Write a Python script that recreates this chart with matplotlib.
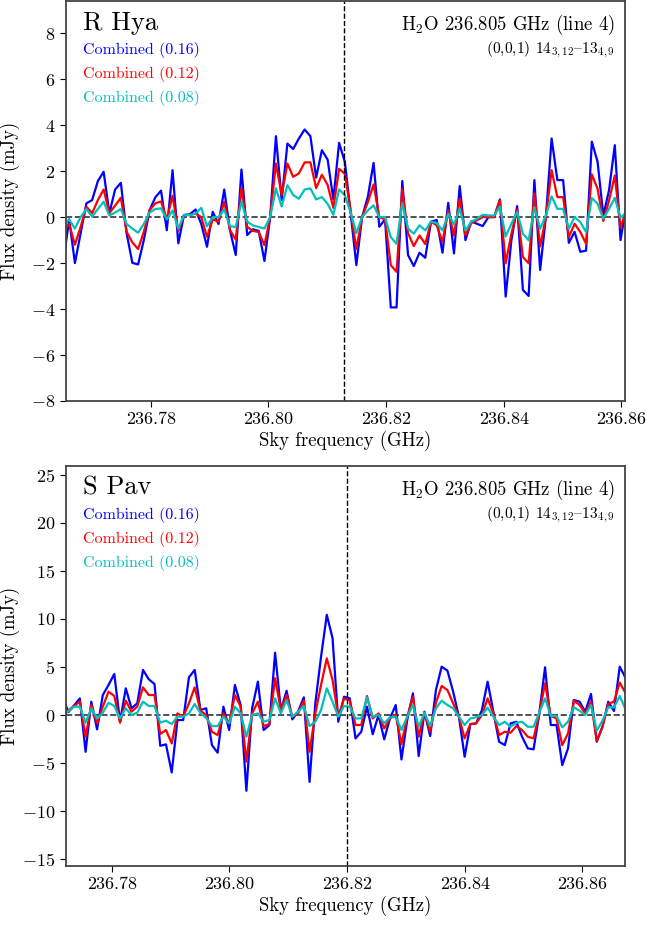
import numpy as np
import matplotlib
matplotlib.use('Agg')
from matplotlib import pyplot as plt

plt.rcParams['font.family'] = ['cmr10', 'DejaVu Serif']
plt.rcParams['mathtext.fontset'] = 'cm'
plt.rcParams['axes.formatter.use_mathtext'] = True
plt.rcParams['font.size'] = 13

# channel grid (GHz)
chan_width = 0.0009766
rhya_f0 = 236.76514
spav_f0 = 236.77163
rhya_line = 236.81284
spav_line = 236.82

labels = ['Combined (0.16)', 'Combined (0.12)', 'Combined (0.08)']
colors = ['b', 'r', 'c']

rhya_016 = [-1.9, -0.1, -2.0, -0.7, 0.6, 0.74, 1.57, 1.97, 0.17, 1.2,
            1.49, -0.7, -1.99, -2.06, -1.0, 0.3, 0.86, 1.15, -0.57, 2.04,
            -1.14, 0.09, 0.12, 0.33, -0.3, -1.29, 0.23, -0.3, 1.2, -0.57,
            -1.65, 2.07, -0.78, -0.53, -0.6, -1.91, 0.0, 3.52, 0.74, 3.2,
            2.96, 3.42, 3.81, 3.52, 1.72, 2.91, 2.5, 0.77, 3.23, 2.4,
            0.2, -2.09, 0.0, 0.88, 2.36, -0.42, -0.1, -3.93, -3.93, 1.57,
            -1.65, -2.13, -1.55, -1.77, -0.2, -0.13, -1.55, 0.62, -1.58, 1.35,
            -1.0, -0.19, -0.29, -0.39, 0.0, 0.0, 0.77, -3.46, -1.0, 0.48,
            -3.17, -3.43, 1.61, -2.3, 0.0, 3.42, 1.61, 1.61, -1.12, -0.64,
            -1.51, -1.46, 3.28, 2.41, 0.07, 1.17, 3.13, -1.0, 0.5]
rhya_012 = [-0.6, -0.3, -1.2, -0.42, 0.45, 0.17, 0.74, 1.2, 0.17, 0.5,
            0.84, -0.64, -1.1, -1.39, -0.64, 0.3, 0.6, 0.68, -0.1, 0.93,
            -0.6, 0.09, 0.09, 0.15, 0.0, -0.86, -0.1, -0.2, 0.67, -0.57,
            -0.97, 1.25, -0.43, -0.6, -0.65, -1.22, 0.0, 2.33, 0.96, 2.33,
            1.75, 1.9, 2.38, 2.38, 1.26, 1.84, 1.4, 0.4, 2.1, 1.88,
            0.3, -1.4, 0.0, 0.65, 1.42, 0.0, -0.1, -2.09, -2.38, 1.22,
            -0.7, -1.26, -0.8, -1.17, -0.2, -0.36, -1.09, 0.29, -0.8, 0.8,
            -0.8, -0.26, -0.14, 0.0, 0.0, 0.0, 0.73, -2.01, -0.72, 0.33,
            -1.74, -2.01, 1.03, -1.28, 0.0, 2.04, 0.87, 0.87, -0.87, -0.29,
            -0.65, -1.16, 1.86, 1.23, -0.17, 0.72, 1.81, -0.46, 0.3]
rhya_008 = [-0.3, -0.11, -0.5, 0.0, 0.35, 0.02, 0.35, 0.67, 0.07, 0.2,
            0.35, -0.3, -0.5, -0.68, -0.3, 0.2, 0.35, 0.38, -0.1, 0.29,
            -0.5, 0.09, 0.09, 0.15, 0.4, -0.4, 0.0, 0.0, 0.33, -0.4,
            -0.43, 0.67, -0.2, -0.36, -0.43, -0.5, 0.0, 1.25, 0.46, 1.39,
            0.96, 0.8, 1.2, 1.25, 0.77, 0.87, 0.58, 0.1, 1.2, 0.95,
            0.2, -0.7, 0.0, 0.29, 0.51, 0.0, 0.0, -0.87, -1.16, 0.61,
            -0.5, -0.72, -0.36, -0.58, -0.2, -0.26, -0.58, 0.14, -0.32, 0.36,
            -0.58, -0.2, -0.07, 0.1, 0.07, 0.07, 0.46, -0.84, -0.29, 0.22,
            -0.72, -1.01, 0.43, -0.51, 0.07, 0.9, 0.36, 0.36, -0.51, 0.0,
            -0.22, -0.65, 0.83, 0.58, -0.07, 0.36, 0.84, -0.03, 0.2]

spav_016 = [1.93, 0.3, 1.0, 1.73, -3.82, 1.39, -1.49, 2.08, 3.13, 4.27,
            -0.7, 2.78, 0.7, 1.22, 4.69, 3.72, 3.23, -3.2, -3.05, -5.97,
            -0.52, -0.52, 3.93, 4.69, 0.52, 0.7, -3.13, -3.92, 0.87, -1.56,
            3.13, 1.04, -7.88, 0.7, 3.47, -1.56, -1.04, 6.49, 0.52, 2.53,
            -0.45, 0.35, 1.84, -6.95, 1.22, 6.07, 10.42, 7.99, -0.7, 1.91,
            1.73, -2.43, -1.74, 0.87, -2.0, 0.0, -2.53, -0.35, 1.04, -4.62,
            -0.52, 2.26, -4.27, 0.35, -2.19, 2.6, 5.03, 4.62, 2.43, -0.17,
            -4.34, -0.94, -0.87, 0.5, 3.47, 0.35, -2.78, -3.13, -0.87, -0.7,
            -2.26, -3.47, -3.57, 0.17, 4.97, -1.04, -1.04, -5.21, -3.47, 1.56,
            1.39, 0.35, 2.19, -2.78, -1.22, 1.39, 0.42, 5.03, 3.89]
spav_012 = [-0.2, 0.5, 0.9, 1.4, -2.26, 1.04, -0.87, 0.87, 2.43, 1.98,
            -0.8, 1.49, 0.35, 0.87, 2.88, 2.08, 2.08, -1.98, -1.56, -2.95,
            0.17, -0.17, 1.22, 2.88, 0.45, 0.0, -1.74, -2.08, 0.17, -0.87,
            2.08, 0.87, -4.86, 0.17, 1.39, -1.15, -0.94, 3.82, 0.52, 2.08,
            -0.17, 0.17, 1.49, -3.82, 0.17, 3.13, 5.9, 3.65, -0.17, 1.73,
            1.5, -1.04, -1.04, 1.98, -0.35, 0.17, -1.39, -0.35, 0.0, -3.02,
            -0.17, 1.91, -2.26, 0.24, -1.74, 1.28, 3.02, 2.6, 1.22, -0.17,
            -2.43, -0.94, -0.87, 0.0, 1.73, 0.17, -2.08, -1.74, -1.84, -1.15,
            -1.56, -2.26, -2.43, 0.17, 3.3, -0.1, -0.35, -3.13, -1.91, 1.49,
            1.04, 0.17, 1.39, -2.68, -1.22, 1.15, 1.39, 3.37, 2.3]
spav_008 = [0.0, 0.4, 0.87, 0.87, -0.8, 0.7, -0.35, 0.24, 1.28, 0.94,
            -0.35, 0.7, 0.0, 0.24, 1.39, 0.94, 0.94, -0.8, -0.59, -0.94,
            -0.17, -0.17, 0.17, 1.15, 0.2, -0.3, -1.15, -1.15, -0.17, -0.87,
            0.87, 0.17, -2.26, 0.0, 0.17, -0.7, -0.52, 1.73, 0.17, 1.56,
            -0.17, 0.35, 0.94, -1.15, -0.7, 0.52, 2.78, 1.39, -0.17, 0.94,
            0.87, -0.35, -0.35, 1.84, -0.17, 0.0, -0.87, -0.24, -0.17, -1.56,
            -0.17, 1.04, -1.22, 0.24, -1.15, 0.7, 1.49, 1.04, 0.7, -0.17,
            -1.04, -0.35, -0.24, 0.0, 0.77, -0.17, -1.04, -0.7, -1.22, -0.8,
            -0.7, -1.22, -1.22, 0.24, 1.73, -0.1, -0.1, -1.28, -0.7, 0.8,
            0.45, 0.0, 1.04, -1.63, -0.59, 0.8, 0.8, 1.98, 0.6]

panels = [
    ('R Hya', rhya_f0, rhya_line, [rhya_016, rhya_012, rhya_008],
     (236.76556, 236.86063), (-8, 9.4), [-8, -6, -4, -2, 0, 2, 4, 6, 8]),
    ('S Pav', spav_f0, spav_line, [spav_016, spav_012, spav_008],
     (236.77219, 236.86726), (-15.7, 25.9), [-15, -10, -5, 0, 5, 10, 15, 20, 25]),
]

fig = plt.figure(figsize=(6.46, 9.25), dpi=100)
boxes = [[0.102, 0.5665, 0.8655, 0.4324], [0.102, 0.0638, 0.8655, 0.4324]]

for box, (star, f0, fline, series, xlim, ylim, yticks) in zip(boxes, panels):
    ax = fig.add_axes(box)
    freq = f0 + chan_width * np.arange(len(series[0]))
    for vals, col in zip(series, colors):
        ax.plot(freq, vals, color=col, lw=1.6)
    ax.axhline(0, color='#333333', ls='--', lw=1.2, zorder=0)
    ax.axvline(fline, color='k', ls='--', lw=1.0)
    ax.set_xlim(xlim)
    ax.set_ylim(ylim)
    ax.set_yticks(yticks)
    ax.set_xticks([236.78, 236.80, 236.82, 236.84, 236.86])
    ax.set_xticklabels(['236.78', '236.80', '236.82', '236.84', '236.86'])
    ax.set_xlabel('Sky frequency (GHz)', fontsize=13.5, labelpad=3)
    ax.set_ylabel('Flux density (mJy)', fontsize=13.5)
    ax.yaxis.set_label_coords(-0.082, 0.5)
    for sp in ax.spines.values():
        sp.set_color('#444444')
        sp.set_linewidth(1.3)
    ax.tick_params(labelsize=13, direction='out', length=4)
    ax.text(0.03, 0.945, star, transform=ax.transAxes, fontsize=19,
            va='center', ha='left')
    for k, (lab, col) in enumerate(zip(labels, colors)):
        ax.text(0.03, 0.877 - 0.06 * k, lab, color=col, transform=ax.transAxes,
                fontsize=11.5, va='center', ha='left')
    ax.text(0.982, 0.94, r'H$_2$O 236.805 GHz (line 4)', transform=ax.transAxes,
            fontsize=13.5, va='center', ha='right')
    # '{' is the en dash slot in the cmr10 font
    ax.text(0.982, 0.877, r'(0,0,1) 14$_{3,12}${13$_{4,9}$', transform=ax.transAxes,
            fontsize=11.2, va='center', ha='right')

fig.savefig('out.png', dpi=100)
